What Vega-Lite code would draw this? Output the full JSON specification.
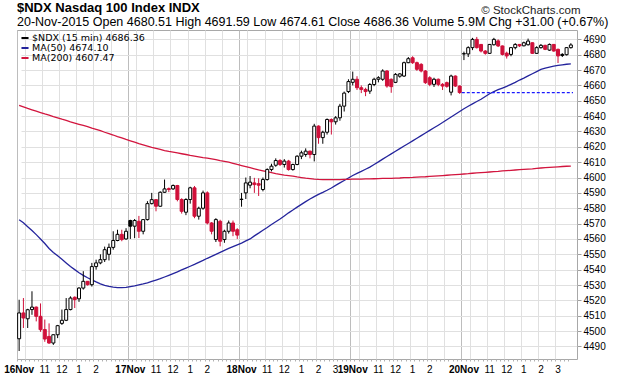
{
  "$schema": "https://vega.github.io/schema/vega-lite/v6.json",
  "width": 560,
  "height": 329,
  "autosize": "none",
  "padding": {"left": 17, "top": 30, "right": 43, "bottom": 17},
  "background": "white",
  "config": {
    "font": "Liberation Sans",
    "view": {"stroke": "#a8a8a8", "strokeWidth": 1},
    "title": {"subtitleFontSize": 12.5, "subtitleFont": "Liberation Sans", "subtitleColor": "#000000"}
  },
  "title": {
    "text": "$NDX Nasdaq 100 Index INDX",
    "subtitle": "20-Nov-2015  Open 4680.51  High 4691.59  Low 4674.61  Close 4686.36  Volume 5.9M  Chg +31.00 (+0.67%)",
    "anchor": "start",
    "frame": "group",
    "offset": -24.5,
    "font": "Liberation Sans",
    "fontSize": 13,
    "fontWeight": "bold",
    "color": "#000000",
    "subtitleFont": "Liberation Sans",
    "subtitleFontSize": 12.5,
    "subtitleColor": "#000000",
    "subtitlePadding": 1
  },
  "datasets": {
    "bars": [
      {"t":"16 09:30","o":4495,"h":4520.4,"l":4487,"c":4511.8,"ma50":4572.5,"ma200":4647},
      {"t":"16 09:45","o":4511.8,"h":4521.5,"l":4502,"c":4508.5,"ma50":4570.5,"ma200":4646},
      {"t":"16 10:00","o":4508,"h":4514.5,"l":4502,"c":4513.9,"ma50":4568,"ma200":4645},
      {"t":"16 10:15","o":4514,"h":4525.9,"l":4510.6,"c":4515.6,"ma50":4565.5,"ma200":4644.1},
      {"t":"16 10:30","o":4515.6,"h":4516,"l":4506.3,"c":4509.6,"ma50":4562.8,"ma200":4643.2},
      {"t":"16 10:45","o":4509.6,"h":4518,"l":4499.5,"c":4500.9,"ma50":4560,"ma200":4642.3},
      {"t":"16 11:00","o":4501,"h":4507.5,"l":4493,"c":4494.8,"ma50":4557,"ma200":4641.4},
      {"t":"16 11:15","o":4496.5,"h":4505,"l":4491.7,"c":4492.2,"ma50":4553.8,"ma200":4640.6},
      {"t":"16 11:30","o":4492.2,"h":4497.8,"l":4491,"c":4497.6,"ma50":4551.2,"ma200":4639.7},
      {"t":"16 11:45","o":4497.6,"h":4504,"l":4495.4,"c":4503.5,"ma50":4549,"ma200":4638.9},
      {"t":"16 12:00","o":4505,"h":4514,"l":4504,"c":4507,"ma50":4546.7,"ma200":4638},
      {"t":"16 12:15","o":4507,"h":4521.5,"l":4506.5,"c":4514,"ma50":4544.3,"ma200":4637.2},
      {"t":"16 12:30","o":4514,"h":4522.6,"l":4513.5,"c":4521.5,"ma50":4542,"ma200":4636.3},
      {"t":"16 12:45","o":4522,"h":4522.6,"l":4515,"c":4520.5,"ma50":4540,"ma200":4635.5},
      {"t":"16 13:00","o":4521,"h":4528.6,"l":4519,"c":4528,"ma50":4538,"ma200":4634.7},
      {"t":"16 13:15","o":4528,"h":4539,"l":4527,"c":4532.4,"ma50":4536.3,"ma200":4633.9},
      {"t":"16 13:30","o":4532.4,"h":4532.6,"l":4529.6,"c":4530.2,"ma50":4534.7,"ma200":4633.1},
      {"t":"16 13:45","o":4530.2,"h":4544.4,"l":4529,"c":4542,"ma50":4533.3,"ma200":4632.2},
      {"t":"16 14:00","o":4542,"h":4546.5,"l":4540,"c":4544.4,"ma50":4532,"ma200":4631.4},
      {"t":"16 14:15","o":4544.4,"h":4550,"l":4543.5,"c":4546.5,"ma50":4530.8,"ma200":4630.5},
      {"t":"16 14:30","o":4546.5,"h":4555,"l":4545,"c":4553,"ma50":4529.8,"ma200":4629.5},
      {"t":"16 14:45","o":4550,"h":4557,"l":4546,"c":4554.5,"ma50":4529.1,"ma200":4628.6},
      {"t":"16 15:00","o":4554.5,"h":4565,"l":4553,"c":4559,"ma50":4528.6,"ma200":4627.7},
      {"t":"16 15:15","o":4559,"h":4566,"l":4558.5,"c":4563,"ma50":4528.3,"ma200":4626.7},
      {"t":"16 15:30","o":4563,"h":4566,"l":4558.5,"c":4559.6,"ma50":4528.3,"ma200":4625.8},
      {"t":"16 15:45","o":4560,"h":4567,"l":4559.5,"c":4565,"ma50":4528.5,"ma200":4624.8},
      {"t":"17 09:30","o":4572,"h":4572.5,"l":4560,"c":4568.3,"ma50":4529,"ma200":4623.9},
      {"t":"17 09:45","o":4568.3,"h":4573,"l":4560.5,"c":4572,"ma50":4529.5,"ma200":4623},
      {"t":"17 10:00","o":4571.5,"h":4575,"l":4560.6,"c":4565,"ma50":4530.1,"ma200":4622.1},
      {"t":"17 10:15","o":4565,"h":4573,"l":4563,"c":4572.6,"ma50":4530.7,"ma200":4621.3},
      {"t":"17 10:30","o":4572.6,"h":4584.6,"l":4572,"c":4583,"ma50":4531.4,"ma200":4620.5},
      {"t":"17 10:45","o":4583,"h":4590,"l":4582.5,"c":4585.6,"ma50":4532.3,"ma200":4619.7},
      {"t":"17 11:00","o":4585.6,"h":4585.8,"l":4578,"c":4581.3,"ma50":4533.2,"ma200":4619},
      {"t":"17 11:15","o":4581.3,"h":4591,"l":4581,"c":4590.4,"ma50":4534.1,"ma200":4618.3},
      {"t":"17 11:30","o":4590.4,"h":4598.7,"l":4590,"c":4592.6,"ma50":4535.2,"ma200":4617.6},
      {"t":"17 11:45","o":4592.8,"h":4593.5,"l":4590.5,"c":4592.2,"ma50":4536.3,"ma200":4617},
      {"t":"17 12:00","o":4592.6,"h":4595.5,"l":4592,"c":4594.8,"ma50":4537.4,"ma200":4616.5},
      {"t":"17 12:15","o":4594.8,"h":4595.2,"l":4584.5,"c":4585.7,"ma50":4538.5,"ma200":4616},
      {"t":"17 12:30","o":4585.7,"h":4586.5,"l":4576.5,"c":4578,"ma50":4539.8,"ma200":4615.5},
      {"t":"17 12:45","o":4577.4,"h":4586.5,"l":4575.5,"c":4585.7,"ma50":4541,"ma200":4615},
      {"t":"17 13:00","o":4585.7,"h":4594,"l":4583,"c":4593.3,"ma50":4542.2,"ma200":4614.4},
      {"t":"17 13:15","o":4593.3,"h":4594.5,"l":4573.5,"c":4574.8,"ma50":4543.4,"ma200":4614},
      {"t":"17 13:30","o":4574.8,"h":4581,"l":4572.6,"c":4580,"ma50":4544.7,"ma200":4613.5},
      {"t":"17 13:45","o":4580,"h":4591.5,"l":4579,"c":4590,"ma50":4546,"ma200":4613},
      {"t":"17 14:00","o":4590,"h":4591,"l":4569.5,"c":4570.4,"ma50":4547.4,"ma200":4612.6},
      {"t":"17 14:15","o":4570.4,"h":4571,"l":4563,"c":4565,"ma50":4548.7,"ma200":4612.2},
      {"t":"17 14:30","o":4559.6,"h":4573.5,"l":4558,"c":4572.6,"ma50":4550,"ma200":4611.6},
      {"t":"17 14:45","o":4571.5,"h":4572.5,"l":4555.2,"c":4558.5,"ma50":4551.3,"ma200":4611},
      {"t":"17 15:00","o":4559.6,"h":4566,"l":4557.5,"c":4565,"ma50":4552.6,"ma200":4610.5},
      {"t":"17 15:15","o":4565,"h":4572,"l":4563.5,"c":4570.4,"ma50":4553.8,"ma200":4610},
      {"t":"17 15:30","o":4570.4,"h":4572,"l":4561.8,"c":4565,"ma50":4555,"ma200":4609.3},
      {"t":"17 15:45","o":4566,"h":4567,"l":4560,"c":4562.5,"ma50":4556.2,"ma200":4608.5},
      {"t":"18 09:30","o":4585.7,"h":4590,"l":4581,"c":4585.9,"ma50":4557.3,"ma200":4607.8},
      {"t":"18 09:45","o":4590,"h":4600,"l":4586,"c":4596.5,"ma50":4558.7,"ma200":4607.1},
      {"t":"18 10:00","o":4595,"h":4601,"l":4593,"c":4597,"ma50":4560,"ma200":4606.4},
      {"t":"18 10:15","o":4596.5,"h":4599.8,"l":4590,"c":4595.4,"ma50":4562,"ma200":4605.7},
      {"t":"18 10:30","o":4596,"h":4599.5,"l":4588,"c":4595,"ma50":4563.8,"ma200":4605},
      {"t":"18 10:45","o":4592.2,"h":4600,"l":4591,"c":4598.7,"ma50":4565.7,"ma200":4604.4},
      {"t":"18 11:00","o":4598.7,"h":4606,"l":4598,"c":4605.2,"ma50":4567.5,"ma200":4603.8},
      {"t":"18 11:15","o":4605.2,"h":4609,"l":4604,"c":4607.4,"ma50":4569.4,"ma200":4603.2},
      {"t":"18 11:30","o":4608,"h":4612.5,"l":4607,"c":4611.1,"ma50":4571.2,"ma200":4602.6},
      {"t":"18 11:45","o":4611.1,"h":4612,"l":4607.5,"c":4608.5,"ma50":4573,"ma200":4602.1},
      {"t":"18 12:00","o":4608.5,"h":4612,"l":4606.5,"c":4610.7,"ma50":4575,"ma200":4601.6},
      {"t":"18 12:15","o":4610.7,"h":4611.5,"l":4604.5,"c":4605.2,"ma50":4577,"ma200":4601.3},
      {"t":"18 12:30","o":4605.2,"h":4609,"l":4604.5,"c":4608.5,"ma50":4578.8,"ma200":4600.9},
      {"t":"18 12:45","o":4608.5,"h":4614.5,"l":4608,"c":4613.9,"ma50":4580.7,"ma200":4600.4},
      {"t":"18 13:00","o":4613.9,"h":4617.5,"l":4612,"c":4616.1,"ma50":4582.5,"ma200":4600},
      {"t":"18 13:15","o":4615,"h":4619,"l":4613.5,"c":4617.2,"ma50":4584.3,"ma200":4599.6},
      {"t":"18 13:30","o":4617.2,"h":4617.5,"l":4612.5,"c":4615,"ma50":4586,"ma200":4599.3},
      {"t":"18 13:45","o":4615,"h":4635,"l":4610.5,"c":4633.5,"ma50":4587.6,"ma200":4599},
      {"t":"18 14:00","o":4633.5,"h":4634,"l":4622,"c":4626,"ma50":4589,"ma200":4598.8},
      {"t":"18 14:15","o":4626,"h":4630.5,"l":4622,"c":4629.5,"ma50":4590.3,"ma200":4598.7},
      {"t":"18 14:30","o":4629.5,"h":4638.5,"l":4628,"c":4637.8,"ma50":4591.7,"ma200":4598.7},
      {"t":"18 14:45","o":4637.8,"h":4638.5,"l":4628,"c":4636.3,"ma50":4593.2,"ma200":4598.7},
      {"t":"18 15:00","o":4636.3,"h":4640,"l":4634.5,"c":4638.9,"ma50":4594.9,"ma200":4598.7},
      {"t":"18 15:15","o":4638.9,"h":4648,"l":4637,"c":4646.5,"ma50":4596.5,"ma200":4598.7},
      {"t":"18 15:30","o":4646.5,"h":4656,"l":4643,"c":4655,"ma50":4598.1,"ma200":4598.8},
      {"t":"18 15:45","o":4656,"h":4664,"l":4655,"c":4662.5,"ma50":4599.7,"ma200":4598.8},
      {"t":"19 09:30","o":4662,"h":4669,"l":4660,"c":4664,"ma50":4601.3,"ma200":4598.9},
      {"t":"19 09:45","o":4664,"h":4666,"l":4657,"c":4658.5,"ma50":4602.7,"ma200":4598.9},
      {"t":"19 10:00","o":4658.5,"h":4660,"l":4655,"c":4657.4,"ma50":4604,"ma200":4599},
      {"t":"19 10:15","o":4657.4,"h":4658.5,"l":4653,"c":4656,"ma50":4605.4,"ma200":4599.1},
      {"t":"19 10:30","o":4656.3,"h":4661.5,"l":4654.5,"c":4660.6,"ma50":4606.8,"ma200":4599.1},
      {"t":"19 10:45","o":4660.6,"h":4665,"l":4659.5,"c":4664,"ma50":4608.5,"ma200":4599.2},
      {"t":"19 11:00","o":4664,"h":4666,"l":4662,"c":4665,"ma50":4610.2,"ma200":4599.3},
      {"t":"19 11:15","o":4664,"h":4670.5,"l":4663,"c":4669.4,"ma50":4612,"ma200":4599.4},
      {"t":"19 11:30","o":4669.4,"h":4670,"l":4658.5,"c":4659.6,"ma50":4613.7,"ma200":4599.4},
      {"t":"19 11:45","o":4664,"h":4664.5,"l":4655.2,"c":4659.2,"ma50":4615.4,"ma200":4599.5},
      {"t":"19 12:00","o":4662,"h":4668,"l":4661.5,"c":4667.2,"ma50":4617.1,"ma200":4599.6},
      {"t":"19 12:15","o":4666,"h":4668,"l":4665,"c":4667.5,"ma50":4618.8,"ma200":4599.7},
      {"t":"19 12:30","o":4666.1,"h":4675.5,"l":4665.5,"c":4674.8,"ma50":4620.5,"ma200":4599.9},
      {"t":"19 12:45","o":4674.8,"h":4678.5,"l":4674.5,"c":4677.4,"ma50":4622.2,"ma200":4600},
      {"t":"19 13:00","o":4678,"h":4679,"l":4674,"c":4674.8,"ma50":4623.9,"ma200":4600.1},
      {"t":"19 13:15","o":4674.8,"h":4675.5,"l":4669.5,"c":4670.5,"ma50":4625.6,"ma200":4600.3},
      {"t":"19 13:30","o":4673.7,"h":4674.5,"l":4668.5,"c":4669.4,"ma50":4627.3,"ma200":4600.4},
      {"t":"19 13:45","o":4669.4,"h":4670,"l":4661,"c":4661.8,"ma50":4629,"ma200":4600.5},
      {"t":"19 14:00","o":4665,"h":4666,"l":4659.5,"c":4660.7,"ma50":4630.7,"ma200":4600.7},
      {"t":"19 14:15","o":4660.7,"h":4665,"l":4659,"c":4664,"ma50":4632.4,"ma200":4600.9},
      {"t":"19 14:30","o":4664,"h":4664.5,"l":4659.5,"c":4660.7,"ma50":4634.1,"ma200":4601.1},
      {"t":"19 14:45","o":4660.7,"h":4661.5,"l":4657,"c":4659.6,"ma50":4635.8,"ma200":4601.3},
      {"t":"19 15:00","o":4661.8,"h":4662.5,"l":4658.5,"c":4659.4,"ma50":4637.6,"ma200":4601.5},
      {"t":"19 15:15","o":4655.6,"h":4667,"l":4653.5,"c":4666.1,"ma50":4639.4,"ma200":4601.7},
      {"t":"19 15:30","o":4666.1,"h":4666.5,"l":4659,"c":4659.6,"ma50":4641.2,"ma200":4601.9},
      {"t":"19 15:45","o":4659.6,"h":4660,"l":4654.5,"c":4655.36,"ma50":4643,"ma200":4602.1},
      {"t":"20 09:30","o":4680.51,"h":4682,"l":4676.5,"c":4680.7,"ma50":4644.8,"ma200":4602.3},
      {"t":"20 09:45","o":4680.5,"h":4685.5,"l":4678.5,"c":4684.6,"ma50":4646.4,"ma200":4602.5},
      {"t":"20 10:00","o":4684.6,"h":4691,"l":4683,"c":4690,"ma50":4648,"ma200":4602.8},
      {"t":"20 10:15","o":4690,"h":4691.59,"l":4684,"c":4684.6,"ma50":4649.5,"ma200":4603},
      {"t":"20 10:30","o":4686.7,"h":4687,"l":4681.5,"c":4682.4,"ma50":4651,"ma200":4603.2},
      {"t":"20 10:45","o":4682.4,"h":4683,"l":4680,"c":4680.9,"ma50":4652.8,"ma200":4603.4},
      {"t":"20 11:00","o":4680.9,"h":4687,"l":4680.5,"c":4686.7,"ma50":4654.6,"ma200":4603.6},
      {"t":"20 11:15","o":4686.5,"h":4691,"l":4686,"c":4690,"ma50":4656,"ma200":4603.8},
      {"t":"20 11:30","o":4689,"h":4690,"l":4685,"c":4685.7,"ma50":4657.2,"ma200":4604},
      {"t":"20 11:45","o":4685.7,"h":4686,"l":4679.5,"c":4680.2,"ma50":4658.3,"ma200":4604.3},
      {"t":"20 12:00","o":4681,"h":4682,"l":4677.5,"c":4679.2,"ma50":4659.4,"ma200":4604.5},
      {"t":"20 12:15","o":4680.2,"h":4685,"l":4679,"c":4684.6,"ma50":4660.7,"ma200":4604.7},
      {"t":"20 12:30","o":4684.6,"h":4687.5,"l":4683.5,"c":4686.7,"ma50":4662,"ma200":4604.9},
      {"t":"20 12:45","o":4686.7,"h":4687,"l":4685,"c":4685.8,"ma50":4663.5,"ma200":4605.1},
      {"t":"20 13:00","o":4685.8,"h":4688.5,"l":4685.5,"c":4687.8,"ma50":4664.8,"ma200":4605.3},
      {"t":"20 13:15","o":4686.5,"h":4690.5,"l":4686,"c":4688.9,"ma50":4666.2,"ma200":4605.5},
      {"t":"20 13:30","o":4687.8,"h":4688,"l":4680.5,"c":4680.9,"ma50":4667.6,"ma200":4605.7},
      {"t":"20 13:45","o":4680.9,"h":4685.5,"l":4680.5,"c":4684.6,"ma50":4669,"ma200":4606},
      {"t":"20 14:00","o":4684.6,"h":4687,"l":4684,"c":4686.1,"ma50":4670.4,"ma200":4606.2},
      {"t":"20 14:15","o":4686.1,"h":4686.5,"l":4683,"c":4683.5,"ma50":4671.2,"ma200":4606.4},
      {"t":"20 14:30","o":4683,"h":4687.3,"l":4682.5,"c":4686.7,"ma50":4671.9,"ma200":4606.6},
      {"t":"20 14:45","o":4686.7,"h":4687,"l":4682,"c":4682.4,"ma50":4672.5,"ma200":4606.8},
      {"t":"20 15:00","o":4683.5,"h":4684,"l":4674.61,"c":4679.2,"ma50":4673,"ma200":4607},
      {"t":"20 15:15","o":4680.2,"h":4681,"l":4678.5,"c":4679.5,"ma50":4673.4,"ma200":4607.2},
      {"t":"20 15:30","o":4680,"h":4685,"l":4679.5,"c":4684.6,"ma50":4673.8,"ma200":4607.35},
      {"t":"20 15:45","o":4684.6,"h":4687.5,"l":4684,"c":4686.36,"ma50":4674.1,"ma200":4607.47}
    ],
    "prev": [{"from": "20 09:30", "to": "20 15:45", "pc": 4655.36}]
  },
  "layer": [
    {
      "data": {"name": "bars"},
      "transform": [{"window": [{"op": "lag", "field": "c", "as": "pc"}], "sort": [{"field": "t"}]}],
      "mark": {"type": "rule", "strokeWidth": 1, "opacity": 0},
      "encoding": {
        "x": {
          "field": "t", "type": "ordinal", "title": null,
          "scale": {"paddingInner": 0, "paddingOuter": 0, "range": [0, 556]},
          "axis": {
            "bandPosition": 0,
            "labelExpr": "slice(datum.value,3)=='09:30' ? slice(datum.value,0,2)+'Nov' : slice(datum.value,3)=='11:00' ? '11' : slice(datum.value,3)=='12:00' ? '12' : slice(datum.value,3)=='13:00' ? '1' : slice(datum.value,3)=='14:00' ? '2' : (slice(datum.value,3)=='15:00' && (slice(datum.value,0,2)=='18' || slice(datum.value,0,2)=='20')) ? '3' : ''",
            "labelAngle": 0,
            "labelOverlap": false,
            "labelBound": false,
            "labelFont": "Liberation Sans",
            "labelFontSize": 10,
            "labelFontWeight": {"condition": {"test": "slice(datum.value,3)=='09:30'", "value": "bold"}, "value": "normal"},
            "labelColor": "#000000",
            "labelPadding": 3,
            "domain": false,
            "ticks": true,
            "tickSize": 2,
            "tickColor": "#b0b0b0",
            "grid": true,
            "gridColor": {"condition": {"test": "slice(datum.value,3)=='09:30'", "value": "#bdbdbd"}, "value": "#e0e0e0"},
            "gridOpacity": {"condition": {"test": "slice(datum.value,6)=='00' || slice(datum.value,3)=='09:30'", "value": 1}, "value": 0},
            "gridWidth": 1
          }
        },
        "y": {
          "field": "l", "type": "quantitative",
          "scale": {"domain": [4481.8, 4696.1], "nice": false, "zero": false},
          "axis": {
            "orient": "right",
            "values": [4490,4500,4510,4520,4530,4540,4550,4560,4570,4580,4590,4600,4610,4620,4630,4640,4650,4660,4670,4680,4690],
            "tickCount": 40,
            "format": "d",
            "labelOverlap": false,
            "labelBound": false,
            "labelFont": "Liberation Sans",
            "labelFontSize": 10,
            "labelColor": "#000000",
            "labelPadding": 2,
            "tickSize": 4,
            "tickColor": "#a0a0a0",
            "domain": false,
            "grid": true,
            "gridColor": "#e0e0e0",
            "title": "© StockCharts.com",
            "titleAngle": 0,
            "titleAlign": "right",
            "titleBaseline": "middle",
            "titleX": 3,
            "titleY": -20,
            "titleFont": "Liberation Sans",
            "titleFontSize": 11.5,
            "titleFontWeight": "normal",
            "titleColor": "#222222"
          }
        },
        "y2": {"field": "h"}
      }
    },
    {
      "data": {"name": "bars"},
      "transform": [{"fold": ["ma50", "ma200"], "as": ["series", "v"]}],
      "mark": {"type": "line", "strokeWidth": 1.3, "interpolate": "linear"},
      "encoding": {
        "x": {"field": "t", "type": "ordinal"},
        "y": {"field": "v", "type": "quantitative"},
        "color": {
          "field": "series", "type": "nominal",
          "scale": {"domain": ["ndx", "ma50", "ma200"], "range": ["#000000", "#24249c", "#d2153e"]},
          "legend": {
            "orient": "top-left",
            "offset": 2,
            "padding": 1,
            "title": null,
            "labelExpr": "datum.value=='ndx' ? '$NDX (15 min) 4686.36' : datum.value=='ma50' ? 'MA(50) 4674.10' : 'MA(200) 4607.47'",
            "labelFont": "DejaVu Sans",
            "labelFontSize": 9.5,
            "labelColor": "#000000",
            "symbolType": "stroke",
            "symbolSize": 50,
            "symbolStrokeWidth": 2,
            "rowPadding": 0,
            "labelOffset": 2,
            "encoding": {"labels": {"update": {"fill": {"scale": "color", "field": "value"}}}}
          }
        }
      }
    },
    {
      "data": {"name": "bars"},
      "transform": [{"window": [{"op": "lag", "field": "c", "as": "pc"}], "sort": [{"field": "t"}]}],
      "mark": {"type": "rule", "strokeWidth": 1},
      "encoding": {
        "x": {"field": "t", "type": "ordinal"},
        "y": {"field": "l", "type": "quantitative"},
        "y2": {"field": "h"},
        "stroke": {"condition": {"test": "datum.pc != null && datum.c < datum.pc", "value": "#d0103a"}, "value": "#000000"}
      }
    },
    {
      "data": {"name": "bars"},
      "transform": [{"window": [{"op": "lag", "field": "c", "as": "pc"}], "sort": [{"field": "t"}]}],
      "mark": {"type": "bar", "width": 3, "strokeWidth": 1},
      "encoding": {
        "x": {"field": "t", "type": "ordinal"},
        "y": {"field": "o", "type": "quantitative"},
        "y2": {"field": "c"},
        "stroke": {"condition": {"test": "datum.pc != null && datum.c < datum.pc", "value": "#d0103a"}, "value": "#000000"},
        "fill": {"condition": [{"test": "datum.c >= datum.o", "value": "#ffffff"}, {"test": "datum.pc != null && datum.c < datum.pc", "value": "#d0103a"}], "value": "#000000"}
      }
    },
    {
      "data": {"name": "prev"},
      "mark": {"type": "rule", "strokeWidth": 1.2, "strokeDash": [3, 2], "color": "#1a1aff"},
      "encoding": {
        "x": {"field": "from", "type": "ordinal", "bandPosition": 0},
        "x2": {"field": "to", "bandPosition": 1},
        "y": {"field": "pc", "type": "quantitative"}
      }
    }
  ]
}
